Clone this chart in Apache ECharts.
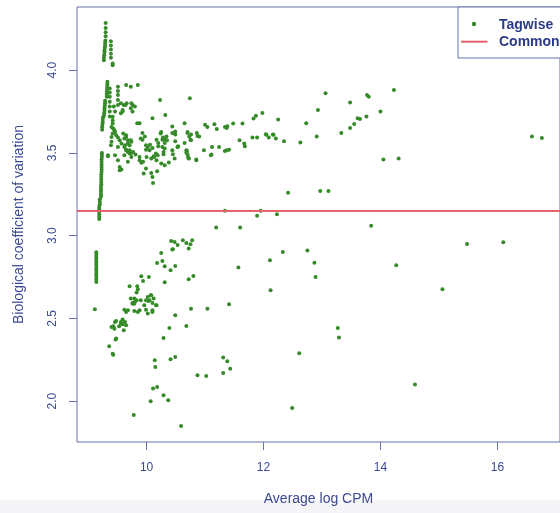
<!DOCTYPE html>
<html>
<head>
<meta charset="utf-8">
<script src="https://cdn.jsdelivr.net/npm/echarts@6/dist/echarts.min.js"></script>
<style>
html,body{margin:0;padding:0;background:#fff;}
#chart{width:560px;height:513px;}
</style>
</head>
<body>
<div id="chart"></div>
<script>
// ---- data: [Average log CPM, Biological coefficient of variation] ----
const stripPoints = [
 [9.14,2.72],[9.14,2.735],[9.14,2.75],[9.14,2.765],[9.14,2.78],[9.14,2.795],[9.14,2.81],[9.14,2.825],[9.14,2.84],[9.14,2.855],[9.14,2.87],[9.14,2.885],[9.14,2.90],
 [9.115,2.555],
 [9.19,3.10],[9.19,3.115],[9.19,3.13],[9.19,3.145],[9.19,3.16],[9.19,3.175],[9.20,3.19],[9.20,3.205],[9.20,3.22],
 [9.22,3.235],[9.22,3.25],[9.22,3.265],[9.22,3.28],[9.22,3.295],[9.225,3.31],[9.225,3.325],[9.225,3.34],[9.225,3.355],[9.225,3.37],[9.23,3.385],[9.23,3.40],[9.23,3.415],[9.23,3.43],[9.23,3.445],[9.23,3.46],[9.235,3.475],[9.235,3.49],[9.235,3.50],
 [9.24,3.64],[9.24,3.655],[9.245,3.67],[9.25,3.685],[9.25,3.70],[9.255,3.715],
 [9.27,3.725],[9.275,3.74],[9.28,3.755],[9.28,3.77],[9.285,3.785],[9.29,3.80],[9.29,3.815],
 [9.32,3.84],[9.32,3.855],[9.32,3.87],[9.325,3.885],[9.325,3.90],[9.33,3.915],[9.33,3.93],
 [9.37,3.89],[9.37,3.865],[9.37,3.84],[9.37,3.81],[9.37,3.78],[9.37,3.75],[9.37,3.72],
 [9.51,3.90],[9.51,3.875],[9.51,3.85],[9.51,3.82],[9.51,3.79],
 [9.27,4.06],[9.27,4.075],[9.275,4.09],[9.28,4.105],[9.28,4.12],[9.285,4.135],[9.29,4.15],[9.29,4.165],[9.295,4.18],
 [9.30,4.205],[9.30,4.23],[9.30,4.255],[9.30,4.285],
 [9.39,4.175],[9.39,4.15],[9.39,4.125],[9.39,4.10],[9.39,4.075],[9.42,4.04],[9.42,4.03]
];
const upperCloud = [
 [9.65,3.91],[9.73,3.90],[9.85,3.91],[10.23,3.82],[10.32,3.73],[10.74,3.83],[10.10,3.71],[10.65,3.68],[9.84,3.68],[9.88,3.68],
 [9.76,3.79],[9.80,3.78],[9.74,3.80],[9.64,3.79],[9.59,3.76],[9.56,3.80],[9.61,3.79],[9.66,3.80],[9.73,3.77],[9.76,3.75],[9.59,3.75],[9.56,3.74],[9.44,3.78],[9.46,3.75],
 [9.42,3.718],[9.42,3.698],[9.42,3.678],[9.40,3.657],[9.45,3.637],[9.42,3.617],[9.40,3.597],[9.40,3.567],[9.39,3.547],
 [10.44,3.66],[10.49,3.63],[11.00,3.67],[11.04,3.657],[11.16,3.674],[11.20,3.645],[11.34,3.657],[11.37,3.651],[11.38,3.661],[11.48,3.678],[11.64,3.678],[11.83,3.708],[11.87,3.724],[11.98,3.742],[12.25,3.702],
 [10.90,3.60],[10.86,3.62],[10.70,3.62],[10.73,3.60],[10.75,3.58],[10.65,3.56],[10.54,3.54],[10.49,3.57],[10.34,3.60],[10.27,3.58],[10.31,3.56],[10.20,3.56],[10.20,3.54],[10.17,3.58],[10.10,3.53],[10.06,3.55],[9.97,3.60],[9.93,3.58],[9.93,3.62],
 [9.99,3.52],[10.00,3.476],[9.88,3.476],[9.94,3.446],[10.08,3.466],[10.12,3.48],[10.17,3.456],[10.25,3.436],[10.31,3.426],[10.38,3.442],[10.45,3.492],[10.53,3.536],
 [10.69,3.512],[10.70,3.49],[10.71,3.476],[10.72,3.468],
 [10.85,3.456],[10.98,3.516],[11.11,3.49],[11.12,3.536],[11.24,3.536],[11.34,3.512],[11.37,3.516],[11.41,3.52],
 [11.59,3.577],[11.67,3.557],[11.68,3.54],[11.81,3.593],[11.89,3.593],[12.04,3.613],[12.09,3.593],[12.16,3.611],[12.21,3.587],[12.35,3.571],[12.63,3.563],
 [9.34,3.486],[9.46,3.486],[9.51,3.456],[9.54,3.415],[9.54,3.395],[9.57,3.40],[9.68,3.446],[9.71,3.496],[9.74,3.476],[9.77,3.506],[9.81,3.49],[9.88,3.456],[9.91,3.44],[9.95,3.375],[9.99,3.406],[10.08,3.379],[10.10,3.355],[10.11,3.319],[10.18,3.389],
 [9.51,3.536],[9.54,3.577],[9.57,3.557],[9.63,3.547],[9.65,3.52],[9.68,3.557],[9.74,3.567],
 [9.43,3.648],[9.46,3.627],[9.48,3.607],[9.51,3.593],[9.60,3.617],[9.65,3.597],
 [9.62,3.587],[9.65,3.607],[9.68,3.577],[9.71,3.547],[9.73,3.577],[9.90,3.587],[9.99,3.547],[10.02,3.536],[10.05,3.516],[9.62,3.536],[9.65,3.516],[9.68,3.506],[9.71,3.516],[9.73,3.496],[9.62,3.486],[9.34,3.48],[10.16,3.496],[10.19,3.486],[10.13,3.476],[10.29,3.506],[10.31,3.527],[10.24,3.617],
 [10.44,3.621],[10.49,3.611],[10.70,3.627],[10.76,3.611],[10.87,3.603],[10.76,3.577],[10.28,3.593],[10.31,3.581],[10.35,3.577],[10.25,3.627],[10.27,3.536],[10.53,3.536],[10.44,3.516],[10.68,3.516],[10.68,3.502],[10.29,3.492],[10.48,3.466],[10.72,3.466],[10.85,3.46],[11.10,3.486],
 [13.06,3.86],[14.23,3.88],[13.77,3.85],[13.80,3.84],[13.48,3.805],[12.93,3.76],[14.00,3.75],[13.61,3.71],[13.65,3.705],[13.76,3.72],[13.55,3.675],[13.48,3.65],[13.33,3.62],[12.91,3.60],[12.73,3.68],[12.05,3.61],[12.17,3.61],
 [16.59,3.60],[16.76,3.59],[14.05,3.46],[14.31,3.466]
];
const middlePoints = [
 [11.19,3.05],[11.60,3.05],[11.34,3.15],[11.89,3.12],[11.95,3.15],[12.23,3.13],[12.42,3.26],[12.97,3.27],[13.11,3.27],[13.84,3.06],[15.48,2.95],[16.10,2.96]
];
const lowerCloud = [
 [10.42,2.968],[10.48,2.962],[10.53,2.944],[10.62,2.972],[10.78,2.972],[10.75,2.948],[10.72,2.922],[10.45,2.918],[10.25,2.895],[10.68,2.956],
 [10.27,2.847],[10.31,2.815],[10.49,2.817],[10.41,2.791],[10.31,2.718],[10.72,2.736],[10.80,2.756],[10.18,2.835],[10.44,2.916],
 [9.91,2.754],[10.04,2.75],[9.94,2.726],[9.71,2.694],[9.84,2.694],[9.85,2.676],[9.83,2.656],
 [9.73,2.62],[9.79,2.62],[9.83,2.609],[9.90,2.609],[9.76,2.593],[10.02,2.629],[10.07,2.64],[10.03,2.605],[10.10,2.593],[9.96,2.579],[9.79,2.589],
 [9.62,2.553],[9.65,2.539],[9.68,2.549],[9.79,2.545],[9.85,2.539],[9.88,2.549],[9.99,2.553],[10.10,2.549],[10.16,2.579],
 [9.59,2.493],[9.56,2.469],[9.63,2.478],[9.65,2.458],[9.48,2.484],[9.45,2.438],[9.40,2.448],[9.43,2.452],[9.61,2.428],[9.48,2.378],[9.47,2.372],[9.36,2.331],[9.42,2.287],[9.43,2.281],[9.56,2.478],[9.59,2.464],[9.53,2.452],[9.46,2.478],
 [9.76,2.589],[9.80,2.599],[9.99,2.609],[10.05,2.609],[10.08,2.64],[10.12,2.62],[10.10,2.539],[10.02,2.529],[10.17,2.579]
];
const scatteredLow = [
 [10.14,2.247],[10.15,2.206],[10.41,2.253],[10.49,2.267],[10.39,2.442],[10.49,2.519],[10.29,2.381],[10.68,2.454],[10.76,2.559],[11.04,2.559],[11.41,2.585],
 [11.57,2.807],[12.11,2.851],[12.12,2.67],[12.33,2.901],[12.75,2.91],[12.87,2.837],[12.89,2.75],[13.27,2.442],[13.29,2.384],[12.61,2.29],
 [14.27,2.821],[15.06,2.676],[14.59,2.101],[12.49,1.958],
 [10.11,2.076],[10.18,2.085],[10.07,2.0],[10.29,2.035],[10.37,2.005],[9.78,1.916],[10.59,1.85],
 [10.87,2.156],[11.02,2.152],[11.31,2.263],[11.38,2.241],[11.43,2.196],[11.31,2.17]
];
const commonBCV = 3.155;
const xTicks = [10, 12, 14, 16];
const yTicks = [2.0, 2.5, 3.0, 3.5, 4.0];
const xRange = [8.81, 17.07];
const yRange = [1.753, 4.382];

const tagwise = [].concat(stripPoints, upperCloud, middlePoints, lowerCloud, scatteredLow);

const axisCol = '#6672ab';
const textCol = '#3b4a92';
const font = '"Liberation Sans", Arial, Helvetica, sans-serif';

const chart = echarts.init(document.getElementById('chart'), null, {renderer: 'canvas'});
chart.setOption({
  animation: false,
  backgroundColor: '#ffffff',
  grid: {left: 77, top: 7, bottom: 71, right: -2.4, show: true, borderColor: axisCol, borderWidth: 1, backgroundColor: 'transparent'},
  xAxis: {
    type: 'value', min: xRange[0], max: xRange[1],
    name: 'Average log CPM', nameLocation: 'middle', nameGap: 50,
    nameTextStyle: {color: textCol, fontSize: 14, fontFamily: font},
    axisLine: {show: false},
    splitLine: {show: false},
    axisTick: {show: true, length: 8, lineStyle: {color: axisCol}, customValues: xTicks},
    axisLabel: {color: textCol, fontSize: 12, fontFamily: font, margin: 20, customValues: xTicks}
  },
  yAxis: {
    type: 'value', min: yRange[0], max: yRange[1],
    name: 'Biological coefficient of variation', nameLocation: 'middle', nameGap: 51,
    nameTextStyle: {color: textCol, fontSize: 14, fontFamily: font},
    axisLine: {show: false},
    splitLine: {show: false},
    axisTick: {show: true, length: 8, lineStyle: {color: axisCol}, customValues: yTicks},
    axisLabel: {color: textCol, fontSize: 12, fontFamily: font, margin: 18, rotate: 90,
      customValues: yTicks, formatter: v => Number(v).toFixed(1)}
  },
  series: [{
    name: 'Tagwise', type: 'scatter', data: tagwise, symbol: 'circle', symbolSize: 4,
    itemStyle: {color: '#368b29', opacity: 1},
    markLine: {
      silent: true, symbol: ['none', 'none'], label: {show: false},
      lineStyle: {color: '#e6636b', width: 2, type: 'solid'},
      data: [{name: 'Common', yAxis: commonBCV}]
    }
  }],
  graphic: [
    {type: 'rect', z: -10, shape: {x: 0, y: 500, width: 560, height: 13}, style: {fill: '#f5f5f7'}},
    {type: 'group', z: 100, children: [
      {type: 'rect', shape: {x: 458, y: 7, width: 140, height: 51}, style: {fill: '#ffffff', stroke: axisCol, lineWidth: 1}},
      {type: 'circle', shape: {cx: 474, cy: 24, r: 2.2}, style: {fill: '#368b29'}},
      {type: 'line', shape: {x1: 461, y1: 41.7, x2: 487.5, y2: 41.7}, style: {stroke: '#e6636b', lineWidth: 2}},
      {type: 'text', x: 499, y: 25, style: {text: 'Tagwise', fill: '#2c3b85', font: 'bold 14px ' + font, textVerticalAlign: 'middle', verticalAlign: 'middle'}},
      {type: 'text', x: 499, y: 42, style: {text: 'Common', fill: '#2c3b85', font: 'bold 14px ' + font, textVerticalAlign: 'middle', verticalAlign: 'middle'}}
    ]}
  ]
});
</script>
</body>
</html>
